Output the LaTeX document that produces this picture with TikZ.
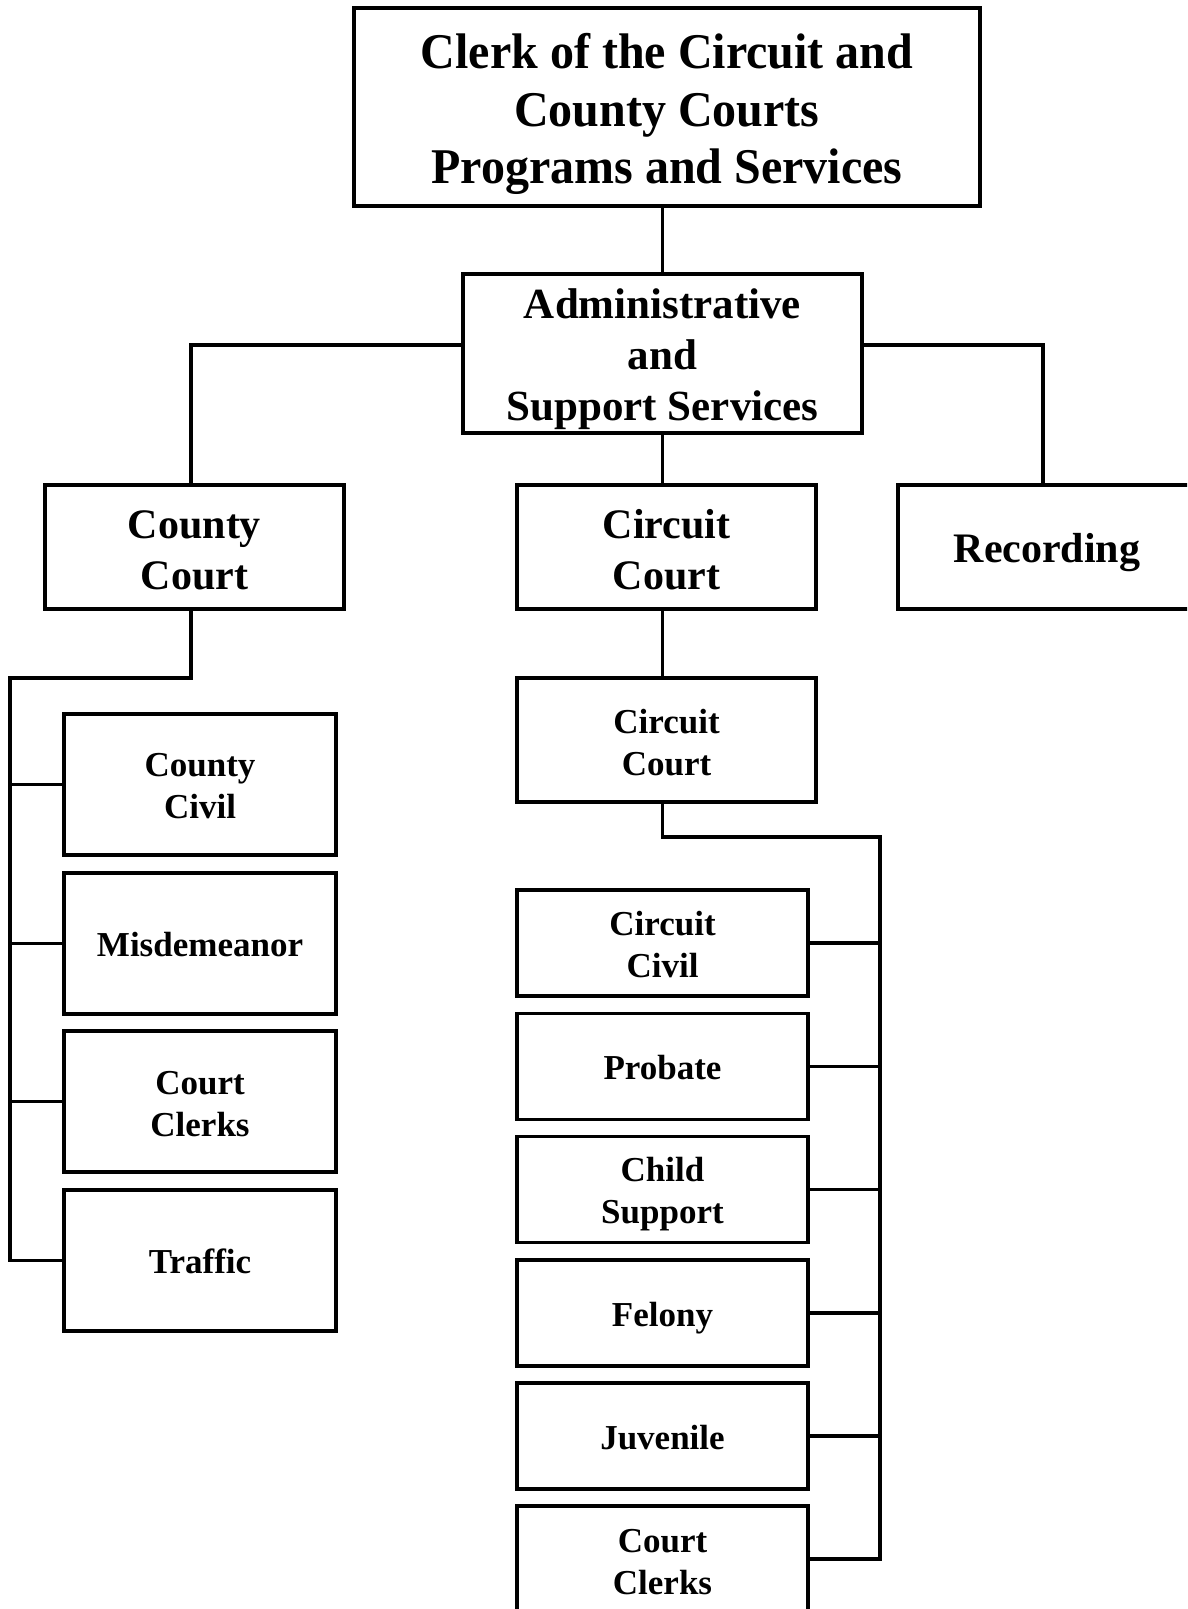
\documentclass[tikz,border=0pt]{standalone}
\usepackage{fontspec}
\setmainfont{Liberation Serif}
\newfontfamily\titlefont[FakeStretch=0.96]{Liberation Serif}
\begin{document}
\begin{tikzpicture}[x=1bp,y=-1bp,
  box/.style={draw,line width=3.3bp,inner sep=0pt},
  txt/.style={inner sep=0pt,align=center,font=\bfseries},
  titletxt/.style={txt,font=\titlefont\bfseries\fontsize{50bp}{57.5bp}\selectfont},
  bigtxt/.style={txt,font=\bfseries\fontsize{42bp}{51bp}\selectfont},
  subtxt/.style={txt,font=\bfseries\fontsize{35bp}{42bp}\selectfont},
  countysub/.style={box,minimum width=272bp,minimum height=141bp},
  circsub/.style={box,minimum width=291bp,minimum height=106bp},
  conn/.style={line width=3.3bp}]
\useasboundingbox (0,0) rectangle (1187,1609);
\clip (0,0) rectangle (1187,1609);
% boxes
\node[box,minimum width=626bp,minimum height=198bp] (title) at (667,107) {};
\node[box,minimum width=399bp,minimum height=159bp] (admin) at (662.5,353.5) {};
\node[box,minimum width=299bp,minimum height=124bp] (county) at (194.5,547) {};
\node[box,minimum width=299bp,minimum height=124bp] (circuit) at (666.5,547) {};
\node[box,minimum width=298bp,minimum height=124bp] (recording) at (1047,547) {};
\node[box,minimum width=299bp,minimum height=124bp] (circuit2) at (666.5,740) {};
\node[countysub] (ccivil) at (200,784.5) {};
\node[countysub] (misd) at (200,943.5) {};
\node[countysub] (cclerks) at (200,1101.5) {};
\node[countysub] (traffic) at (200,1260.5) {};
\node[circsub] (rcivil) at (662.5,943) {};
\node[circsub] (probate) at (662.5,1066.5) {};
\node[circsub] (child) at (662.5,1189.5) {};
\node[circsub] (felony) at (662.5,1313) {};
\node[circsub] (juv) at (662.5,1436) {};
\node[circsub] (rclerks) at (662.5,1559) {};
% texts
\node[titletxt] (titleT) at ([yshift=-7bp]title.center) {Clerk of the Circuit and\\County Courts\\Programs and Services};
\node[bigtxt,font=\bfseries\fontsize{43bp}{51bp}\selectfont] (adminT) at ([yshift=-6bp]admin.center) {Administrative\\and\\Support Services};
\node[bigtxt] (countyT) at ([yshift=-3bp]county.center) {County\\Court};
\node[bigtxt] (circuitT) at ([yshift=-3bp]circuit.center) {Circuit\\Court};
\node[bigtxt] (recordingT) at ([yshift=-6bp]recording.center) {Recording};
\node[subtxt] (circuit2T) at ([yshift=-3bp]circuit2.center) {Circuit\\Court};
\node[subtxt] (ccivilT) at ([yshift=-2bp]ccivil.center) {County\\Civil};
\node[subtxt] (misdT) at ([yshift=-1bp]misd.center) {Misdemeanor};
\node[subtxt] (cclerksT) at ([yshift=-3bp]cclerks.center) {Court\\Clerks};
\node[subtxt] (trafficT) at ([yshift=-1bp]traffic.center) {Traffic};
\node[subtxt] (rcivilT) at ([yshift=-2bp]rcivil.center) {Circuit\\Civil};
\node[subtxt] (probateT) at ([yshift=-1bp]probate.center) {Probate};
\node[subtxt] (childT) at ([yshift=-5bp]child.center) {Child\\Support};
\node[subtxt] (felonyT) at ([yshift=-5bp]felony.center) {Felony};
\node[subtxt] (juvT) at ([yshift=-2bp]juv.center) {Juvenile};
\node[subtxt] (rclerksT) at ([yshift=-3bp]rclerks.center) {Court\\Clerks};
% connectors
\coordinate (jl) at (191,345);
\coordinate (jr) at (1043,345);
\draw[conn] (title.south -| admin.north) -- (admin.north);
\draw[conn] (admin.west |- jl) -- (jl) -- (jl |- county.north);
\draw[conn] (admin.east |- jr) -- (jr) -- (jr |- recording.north);
\draw[conn] (admin.south) -- (admin.south |- circuit.north);
\draw[conn] (circuit.south -| admin.south) -- (circuit2.north -| admin.south);
% county bus
\coordinate (cb1) at (191,678);
\coordinate (cb2) at (10,678);
\draw[conn] (county.south -| cb1) -- (cb1) -- (cb2) -- (cb2 |- traffic.west) -- (traffic.west);
\draw[conn] (cb2 |- ccivil.west) -- (ccivil.west);
\draw[conn] (cb2 |- misd.west) -- (misd.west);
\draw[conn] (cb2 |- cclerks.west) -- (cclerks.west);
% circuit bus
\coordinate (rb1) at (662.5,837);
\coordinate (rb2) at (880,837);
\draw[conn] (circuit2.south -| rb1) -- (rb1) -- (rb2) -- (rb2 |- rclerks.east) -- (rclerks.east);
\draw[conn] (rb2 |- rcivil.east) -- (rcivil.east);
\draw[conn] (rb2 |- probate.east) -- (probate.east);
\draw[conn] (rb2 |- child.east) -- (child.east);
\draw[conn] (rb2 |- felony.east) -- (felony.east);
\draw[conn] (rb2 |- juv.east) -- (juv.east);
\end{tikzpicture}
\end{document}
